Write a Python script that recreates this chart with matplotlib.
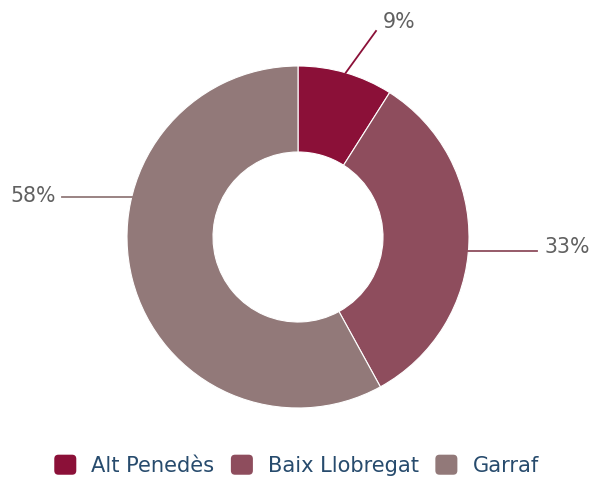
import matplotlib
matplotlib.use("Agg")
import matplotlib.pyplot as plt
from matplotlib.patches import FancyBboxPatch, Patch
from matplotlib.legend_handler import HandlerPatch
import numpy as np

categories = ["Alt Penedès", "Baix Llobregat", "Garraf"]
values = [9, 33, 58]
labels = ["9%", "33%", "58%"]
colors = ["#8b1038", "#8e4d5d", "#927979"]

W, H = 593, 480
fig = plt.figure(figsize=(W / 100, H / 100), dpi=100)
ax = fig.add_axes([0, 0, 1, 1])

cx, cy, R, r_in = 298, H - 237, 171, 85
wedges, _ = ax.pie(values, colors=colors, startangle=90, counterclock=False,
                   radius=R, center=(cx, cy), frame=True,
                   wedgeprops=dict(width=R - r_in, edgecolor="white", linewidth=0.8))
ax.set_xlim(0, W)
ax.set_ylim(0, H)
ax.set_aspect("equal")
ax.axis("off")

lab_col = "#606060"
fs_lab = 14.8
# 9% label
ang = np.deg2rad(90 - values[0] / 100 * 360 / 2)
p0 = (cx + R * np.cos(ang), cy + R * np.sin(ang))
p1 = (376, H - 31)
ax.plot([p0[0], p1[0]], [p0[1], p1[1]], color=colors[0], lw=1.3)
ax.text(p1[0] + 7, H - 22, labels[0], fontsize=fs_lab, color=lab_col, ha="left", va="center")

# 33% label
y33 = H - 251
x33 = cx + np.sqrt(R ** 2 - (y33 - cy) ** 2)
ax.plot([x33, 537], [y33, y33], color=colors[1], lw=1.3)
ax.text(544, H - 247, labels[1], fontsize=fs_lab, color=lab_col, ha="left", va="center")

# 58% label
y58 = H - 197
x58 = cx - np.sqrt(R ** 2 - (y58 - cy) ** 2)
ax.plot([x58, 62], [y58, y58], color=colors[2], lw=1.3)
ax.text(56, H - 196, labels[2], fontsize=fs_lab, color=lab_col, ha="right", va="center")


class RoundHandler(HandlerPatch):
    def create_artists(self, legend, orig_handle, xdescent, ydescent, width, height, fontsize, trans):
        hh = height * 1.25
        p = FancyBboxPatch((-xdescent, -ydescent - (hh - height) / 2), width, hh,
                           boxstyle="round,pad=0,rounding_size=3",
                           facecolor=orig_handle.get_facecolor(), edgecolor="none",
                           transform=trans)
        return [p]


handles = [Patch(facecolor=c) for c in colors]
leg = fig.legend(handles, categories, loc="center", bbox_to_anchor=(0.5, 1 - 466 / H),
                 ncol=3, frameon=False, fontsize=15.1, handlelength=1.05, handleheight=0.8,
                 handletextpad=0.72, columnspacing=0.78,
                 handler_map={Patch: RoundHandler()})
for t in leg.get_texts():
    t.set_color("#274b6d")

fig.savefig("out.png", dpi=100)
